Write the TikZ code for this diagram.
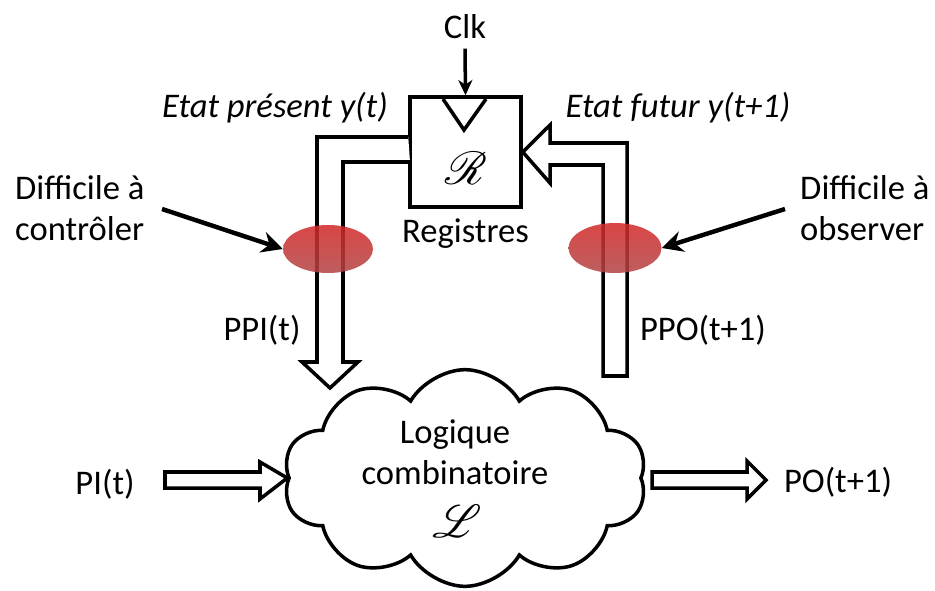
\documentclass[tikz,border=0pt]{standalone}
\usepackage{fontspec}
\setmainfont{Carlito}
\usepackage{amsmath}
\usepackage{mathrsfs}
\usetikzlibrary{arrows.meta, positioning, shapes.geometric, shapes.symbols}

\definecolor{spottop}{RGB}{212,40,40}
\definecolor{spotbot}{RGB}{178,68,68}

\tikzset{
	txt/.style={font=\fontsize{29.5}{35}\selectfont, align=left, inner sep=0pt},
	scr/.style={font=\fontsize{20}{24}\selectfont, inner sep=0pt},
	regbox/.style={draw, line width=3pt, minimum width=3.33cm, minimum height=3.3cm, inner sep=0pt},
	hollow/.style={draw, line width=3pt, fill=white, line join=miter},
	spot/.style={ellipse, inner sep=0pt, top color=spottop, bottom color=spotbot, fill opacity=0.86},
	pointer/.style={line width=3.8pt, -{Stealth[length=18pt, width=18pt, inset=6pt]}},
	clkarrow/.style={line width=3pt, -{Stealth[length=13pt, width=12pt, inset=4pt]}}
}

\begin{document}
\begin{tikzpicture}[x=0.03cm, y=-0.03cm]
	\useasboundingbox (0,0) rectangle (935,590);

	\node[regbox] (reg) at (465.5,152) {};
	\draw[line width=3pt] (443,99) -- (464,130) -- (486,99);
	\node[scr] (regsym) at (466,168) {\scalebox{1.9}{$\mathscr{R}$}};
	\node[txt, below=8pt of reg] (regname) {Registres};

	\node[txt] (clk) at (465,27) {Clk};
	\draw[clkarrow] ([yshift=-8pt]clk.south) -- (reg.north);

	\node[cloud, draw, line width=3pt, cloud puffs=10, cloud puff arc=120, cloud ignores aspect,
		minimum width=10.9cm, minimum height=6.5cm, inner sep=0pt] (logic) at (465,478) {};
	\node[txt, align=center] (logicname) at (455,452) {Logique\\combinatoire};
	\node[scr] (logicsym) at (457,521) {\scalebox{1.9}{$\mathscr{L}$}};

	% etat present / etat futur
	\draw[hollow] (reg.west) ++(0,-15) -- (317,137) -- (317,362) -- (302,362) -- (330,388)
		-- (358,362) -- (343,362) -- (343,162) -- ++(67,0);
	\draw[hollow] (603,376) -- (627,376) -- (627,143) -- (550,143) -- (550,125) -- (reg.east)
		-- (550,183) -- (550,165) -- (603,165) -- cycle;

	\draw[hollow] (165,472) -- (260,472) -- (260,462) -- (logic.west) -- (260,499) -- (260,488) -- (165,488) -- cycle;
	\draw[hollow] (652,472) -- (747,472) -- (747,461) -- (766,480) -- (747,499) -- (747,488) -- (652,488) -- cycle;

	\node[spot, minimum width=2.7cm, minimum height=1.44cm] (ctrlspot) at (328,249) {};
	\node[spot, minimum width=2.79cm, minimum height=1.5cm] (obsspot) at (615,248) {};

	\node[txt, font=\fontsize{29.5}{35}\selectfont\itshape] (present) at (275,108) {Etat présent y(t)};
	\node[txt, font=\fontsize{29.5}{35}\selectfont\itshape] (future) at (678,108) {Etat futur y(t+1)};

	\node[txt, anchor=west] (ctrl) at (15,208) {Difficile à\\contrôler};
	\node[txt, anchor=west] (obs) at (800,208) {Difficile à\\observer};
	\draw[pointer] (162,209) -- (ctrlspot.west);
	\draw[pointer] (785,209) -- (obsspot.east);

	\node[txt] (ppi) at (262,330) {PPI(t)};
	\node[txt] (ppo) at (703,330) {PPO(t+1)};
	\node[txt] (pi) at (105,484) {PI(t)};
	\node[txt] (po) at (838,482) {PO(t+1)};
\end{tikzpicture}
\end{document}
